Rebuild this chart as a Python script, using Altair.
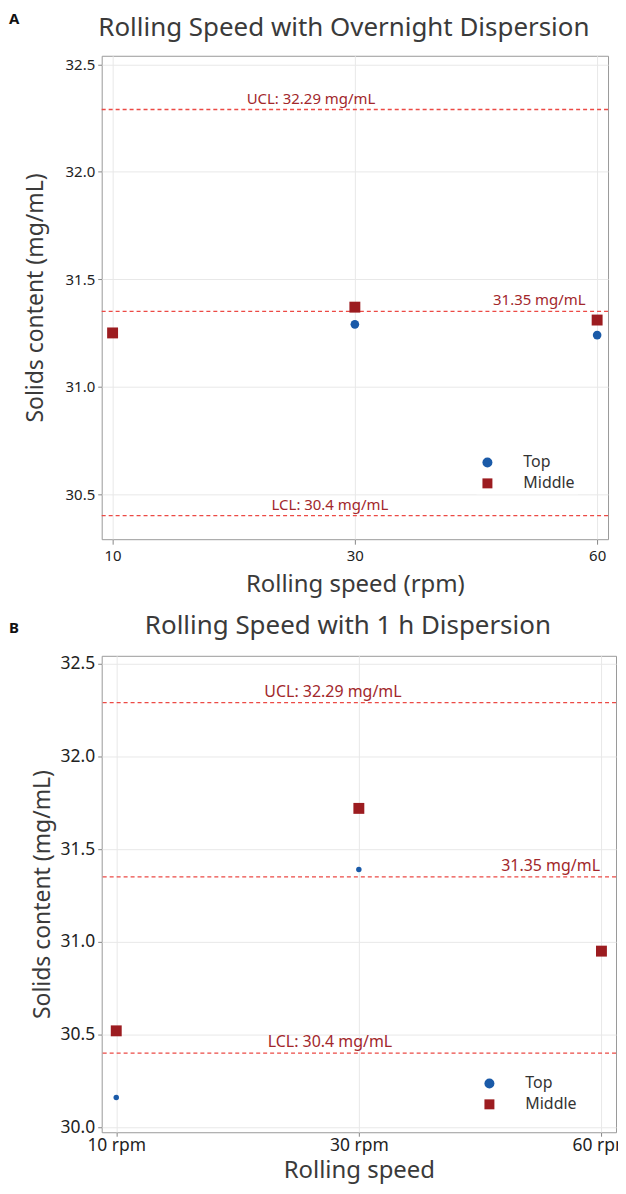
import altair as alt
import pandas as pd

# ---- data -------------------------------------------------------------
series = ["Top", "Middle"]
speeds_a = ["10", "30", "60"]
speeds_b = ["10 rpm", "30 rpm", "60 rpm"]
a_top = [31.25, 31.29, 31.24]
a_mid = [31.25, 31.37, 31.31]
b_top = [30.16, 31.39, 30.94]
b_mid = [30.52, 31.72, 30.95]
limit_values = [32.29, 31.35, 30.4]
limit_labels = ["UCL: 32.29 mg/mL", "31.35 mg/mL", "LCL: 30.4 mg/mL"]
y_ticks_a = [30.5, 31.0, 31.5, 32.0, 32.5]
y_ticks_b = [30.0, 30.5, 31.0, 31.5, 32.0, 32.5]

FONT = "Noto Sans"
BLUE = "#1a5aa8"
DARKRED = "#9c1c20"
LINE_RED = "#ec4a45"
TEXT_RED = "#a2272b"
TITLE_GREY = "#3a3a3a"


def panel(tag, title, speeds, top, mid, domain, yticks, xtitle, width, height,
          xpad, top_size, anchors, dxs, ann_size, legend_xy, label_size,
          tag_xy, title_xy, x_tick, x_lpad, x_tpad, y_tpad):
    df = pd.DataFrame({
        "speed": speeds * 2,
        "series": ["Top"] * len(speeds) + ["Middle"] * len(speeds),
        "value": top + mid,
    })
    lim = pd.DataFrame({"value": limit_values, "label": limit_labels})

    x = alt.X("speed:N", sort=speeds, title=xtitle,
              scale=alt.Scale(type="point", domain=speeds, padding=xpad),
              axis=alt.Axis(labelAngle=0, grid=True, labelFontSize=label_size,
                            tickSize=x_tick, labelPadding=x_lpad,
                            titlePadding=x_tpad, titleFontSize=24))
    y = alt.Y("value:Q", title="Solids content (mg/mL)",
              scale=alt.Scale(domain=domain, nice=False, zero=False),
              axis=alt.Axis(values=yticks, format=".1f", grid=True,
                            labelFontSize=label_size, tickSize=4,
                            labelPadding=3, titlePadding=y_tpad,
                            titleFontSize=23))
    leg = alt.Legend(title=None, orient="none",
                     legendX=legend_xy[0], legendY=legend_xy[1])
    color = alt.Color("series:N", sort=series,
                      scale=alt.Scale(domain=series, range=[BLUE, DARKRED]),
                      legend=leg)
    shape = alt.Shape("series:N", sort=series,
                      scale=alt.Scale(domain=series, range=["circle", "square"]),
                      legend=leg)

    base = alt.Chart(df).encode(x=x, y=y, color=color, shape=shape)
    top_pts = base.transform_filter(alt.datum.series == "Top").mark_point(
        filled=True, opacity=1, size=top_size)
    mid_pts = base.transform_filter(alt.datum.series == "Middle").mark_point(
        filled=True, opacity=1, size=120)

    rules = alt.Chart(lim).mark_rule(color=LINE_RED, strokeDash=[4, 3],
                                     strokeWidth=1.3).encode(y=y)

    texts = []
    for i in range(len(limit_values)):
        d = pd.DataFrame({"value": [limit_values[i]], "label": [limit_labels[i]],
                          "speed": [anchors[i]]})
        texts.append(
            alt.Chart(d).mark_text(font=FONT, fontSize=ann_size, color=TEXT_RED,
                                   baseline="bottom", dx=dxs[i], dy=-3)
            .encode(x=x, y=y, text="label:N")
        )

    tag_mark = alt.Chart(pd.DataFrame({"t": [tag]})).mark_text(
        font=FONT, fontSize=15, fontWeight="bold", color="#111",
        align="left", baseline="middle").encode(
        text="t:N", x=alt.value(tag_xy[0]), y=alt.value(tag_xy[1]))
    title_mark = alt.Chart(pd.DataFrame({"t": [title]})).mark_text(
        font=FONT, fontSize=26, color=TITLE_GREY,
        align="center", baseline="middle").encode(
        text="t:N", x=alt.value(title_xy[0]), y=alt.value(title_xy[1]))

    return alt.layer(rules, *texts, top_pts, mid_pts, tag_mark, title_mark
                     ).properties(width=width, height=height)


pa = panel("A", "Rolling Speed with Overnight Dispersion", speeds_a, a_top, a_mid,
           [30.29, 32.54], y_ticks_a, "Rolling speed (rpm)", 508, 485, 0.045, 75,
           ["30", "60", "30"], [-44, -58, -25], 15, (376, 397), 15,
           (-93, -37), (243, -28), 5, 4, 9, 18)
pb = panel("B", "Rolling Speed with 1 h Dispersion", speeds_b, b_top, b_mid,
           [29.973, 32.543], y_ticks_b, "Rolling speed", 516, 478, 0.06, 30,
           ["30 rpm", "60 rpm", "30 rpm"], [-26, -51, -29], 16, (378, 418), 17.5,
           (-93, -28), (247, -30), 4, 0, 5, 6)

chart = alt.concat(pa, pb, columns=1, spacing=15).resolve_scale(
    x="independent", y="independent", color="independent", shape="independent"
).resolve_legend(color="independent", shape="independent").properties(
    padding={"left": 0, "top": 1, "right": -14, "bottom": 2}
).configure(font=FONT).configure_view(
    stroke="#9a9a9a", strokeWidth=1
).configure_axis(
    labelFont=FONT, titleFont=FONT, labelColor="#222",
    titleColor=TITLE_GREY, titleFontWeight="normal",
    gridColor="#e8e8e8", gridWidth=1, tickColor="#888",
    domain=False,
).configure_legend(
    labelFont=FONT, labelFontSize=16, labelColor="#333", symbolSize=100,
    fillColor="white", padding=3, rowPadding=5, labelOffset=28,
    symbolStrokeWidth=0,
)

chart.save("out.html", embed_options={"renderer": "svg", "actions": False})
